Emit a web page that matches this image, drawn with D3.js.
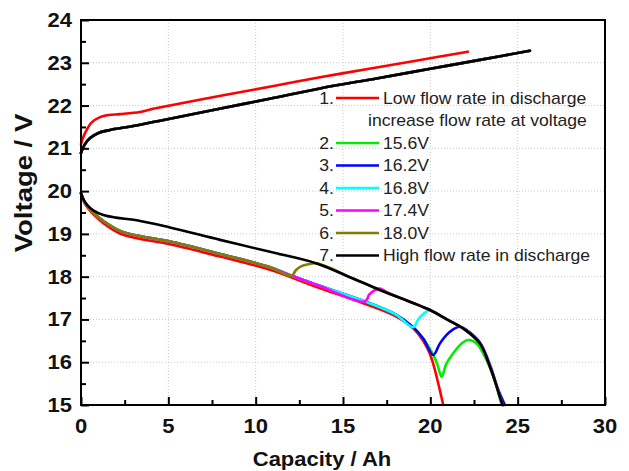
<!DOCTYPE html>
<html><head><meta charset="utf-8">
<script src="https://cdn.jsdelivr.net/npm/d3@7"></script>
<style>html,body{margin:0;padding:0;background:#fff;}svg{display:block;}</style>
</head><body>
<svg id="chart" width="629" height="471"></svg>
<script>
// ---- data (Capacity Ah, Voltage V) ----
const xTicks = [0, 5, 10, 15, 20, 25, 30];
const yTicks = [15, 16, 17, 18, 19, 20, 21, 22, 23, 24];

const chargeLow = [[0,21.10],[0.15,21.28],[0.35,21.45],[0.6,21.6],[1.09,21.73],[1.6,21.78],[2.23,21.80],[3.38,21.85],[4.2,21.93],[5.09,22.0],[8,22.23],[10.8,22.44],[13.68,22.66],[16.5,22.86],[19.5,23.07],[22.15,23.26]];
const chargeHigh = [[0,20.89],[0.2,21.08],[0.52,21.24],[1.0,21.36],[1.66,21.43],[2.23,21.47],[3.38,21.55],[4.2,21.62],[5.09,21.69],[8,21.93],[10.8,22.16],[13.68,22.40],[17,22.64],[20,22.86],[23,23.08],[25.7,23.28]];

const dischargeLow = [[0,19.95],[0.2,19.72],[0.4,19.6],[0.8,19.42],[1.28,19.25],[2.23,19.01],[3.19,18.90],[5.09,18.76],[7.96,18.47],[10.82,18.16],[13.49,17.76],[16.16,17.38],[18,17.08],[19.02,16.79],[19.79,16.36],[20.1,16.05],[20.36,15.66],[20.74,15.0]];
const dischargeBase = [[0,19.95],[0.2,19.74],[0.4,19.63],[0.8,19.46],[1.28,19.30],[2.23,19.07],[3.19,18.96],[5.09,18.82],[7.96,18.53],[10.82,18.22],[12.06,18.02],[13.49,17.81],[16.26,17.42],[18,17.12],[19.02,16.82],[19.6,16.55],[20.17,16.17],[20.4,15.95],[20.65,15.66]];
const dischargeHigh = [[0,19.95],[0.15,19.8],[0.35,19.68],[0.7,19.55],[1.28,19.44],[2.0,19.38],[3.19,19.32],[5.09,19.15],[7.96,18.86],[10.82,18.58],[13.49,18.31],[15.5,17.97],[17.11,17.69],[19.98,17.22],[21.0,16.99],[21.88,16.79],[22.84,16.44],[23.41,15.90],[23.75,15.5],[23.98,15.19],[24.15,15.0]];

const branch18 = [[12.06,18.02],[12.3,18.15],[12.6,18.24],[13.0,18.29],[13.5,18.31]];
const branch174 = [[16.26,17.42],[16.5,17.58],[16.8,17.68],[17.11,17.72],[17.5,17.64]];
const branch168 = [[19.02,16.82],[19.3,17.0],[19.6,17.13],[19.9,17.21],[20.2,17.17]];
const branch162 = [[20.17,16.17],[20.55,16.44],[20.93,16.64],[21.31,16.77],[21.69,16.83],[22.08,16.75]];
const tail162 = [[22.84,16.46],[23.45,15.9],[23.85,15.4],[24.27,15.0]];
const branch156 = [[20.65,15.66],[20.9,15.95],[21.31,16.21],[21.79,16.44],[22.17,16.52],[22.65,16.44],[23.22,16.05],[23.5,15.78],[23.79,15.43],[24.08,15.0]];

const seriesNames = ["Low flow rate in discharge","15.6V","16.2V","16.8V","17.4V","18.0V","High flow rate in discharge"];
const seriesColors = ["#ff0000","#00ee00","#0000ff","#00ffff","#ff00ff","#808000","#000000"];

// ---- build series from read values ----
const upTo = (arr, x) => arr.filter(d => d[0] < x);
const after = (arr, x) => arr.filter(d => d[0] > x);
const discharge = [
  dischargeLow,
  upTo(dischargeBase, 20.65).concat(branch156),
  upTo(dischargeBase, 20.17).concat(branch162, tail162),
  upTo(dischargeBase, 19.02).concat(branch168, after(dischargeHigh, 20.2)),
  upTo(dischargeBase, 16.26).concat(branch174, after(dischargeHigh, 17.5)),
  upTo(dischargeBase, 12.06).concat(branch18, after(dischargeHigh, 13.5)),
  dischargeHigh
];
const charge = [chargeLow, chargeHigh, chargeHigh, chargeHigh, chargeHigh, chargeHigh, chargeHigh];

// ---- layout ----
const L = 81, R = 605, T = 20, B = 405, SX = 1.1;
const svg = d3.select("#chart");
const x = d3.scaleLinear().domain([0, 30]).range([L, R]);
const y = d3.scaleLinear().domain([15, 24]).range([B, T]);

// grid
svg.append("g").selectAll("line").data(xTicks.slice(1, -1)).join("line")
  .attr("x1", d => x(d)).attr("x2", d => x(d)).attr("y1", T).attr("y2", B)
  .attr("stroke", "#c8c8c8").attr("stroke-width", 1).attr("stroke-dasharray", "1,2");
svg.append("g").selectAll("line").data(yTicks.slice(1, -1)).join("line")
  .attr("y1", d => y(d)).attr("y2", d => y(d)).attr("x1", L).attr("x2", R)
  .attr("stroke", "#c8c8c8").attr("stroke-width", 1).attr("stroke-dasharray", "1,2");

// lines
const line = d3.line().x(d => x(d[0])).y(d => y(d[1])).curve(d3.curveCatmullRom.alpha(0.5));
const lg = svg.append("g").attr("fill", "none").attr("stroke-width", 2.6).attr("stroke-linejoin", "round").attr("stroke-linecap", "round");
for (let i = 1; i < 7; i++) {
  lg.append("path").attr("d", line(charge[i])).attr("stroke", seriesColors[i]);
}
lg.append("path").attr("d", line(charge[0])).attr("stroke", seriesColors[0]);
for (let i = 0; i < 7; i++) {
  lg.append("path").attr("d", line(discharge[i])).attr("stroke", seriesColors[i]);
}

// axes (ticks inward)
const xAxis = d3.axisBottom(x).tickValues(d3.range(0, 30.01, 2.5)).tickSizeInner(-8).tickSizeOuter(0).tickFormat("");
const gx = svg.append("g").attr("transform", `translate(0,${B})`).call(xAxis);
gx.selectAll(".tick line").attr("y2", d => (d % 5 === 0 ? -8 : -5)).attr("stroke-width", 2);
gx.select(".domain").remove();
const yAxis = d3.axisLeft(y).tickValues(d3.range(15, 24.01, 0.5)).tickSizeInner(-8).tickSizeOuter(0).tickFormat("");
const gy = svg.append("g").attr("transform", `translate(${L},0)`).call(yAxis);
gy.selectAll(".tick line").attr("x2", d => (d % 1 === 0 ? 8 : 5)).attr("stroke-width", 2);
gy.select(".domain").remove();
svg.append("rect").attr("x", L).attr("y", T).attr("width", R - L).attr("height", B - T)
  .attr("fill", "none").attr("stroke", "#000").attr("stroke-width", 2);

// stretched text helper
function stext(px, py, str, size, weight, anchor, color, tf) {
  return svg.append("text")
    .attr("transform", `translate(${px},${py}) ` + (tf || `scale(${SX},1)`))
    .attr("font-family", "'Liberation Sans', Arial, sans-serif")
    .attr("font-size", size).attr("font-weight", weight)
    .attr("text-anchor", anchor).attr("fill", color).text(str);
}
xTicks.forEach(v => stext(x(v), 433, String(v), 20, "bold", "middle", "#111"));
yTicks.forEach(v => stext(72, y(v) + 7, String(v), 20, "bold", "end", "#111"));
stext(322, 466, "Capacity / Ah", 20, "bold", "middle", "#111", "scale(1.1,1)");
stext(32, 183, "Voltage / V", 22, "bold", "middle", "#111", "rotate(-90) scale(1.25,1.05)");

// legend
const legendRows = [98, 143, 165.5, 188, 210.5, 233, 255.5];
legendRows.forEach((ry, i) => {
  stext(334, ry + 5.5, (i + 1) + ".", 16, "normal", "end", "#222");
  svg.append("line").attr("x1", 336).attr("x2", 379).attr("y1", ry).attr("y2", ry)
    .attr("stroke", seriesColors[i]).attr("stroke-width", 2.6);
  stext(383, ry + 5.5, seriesNames[i], 16, "normal", "start", "#222");
});
stext(368, 120.5 + 5.5, "increase flow rate at voltage", 16, "normal", "start", "#222");
</script>
</body></html>
